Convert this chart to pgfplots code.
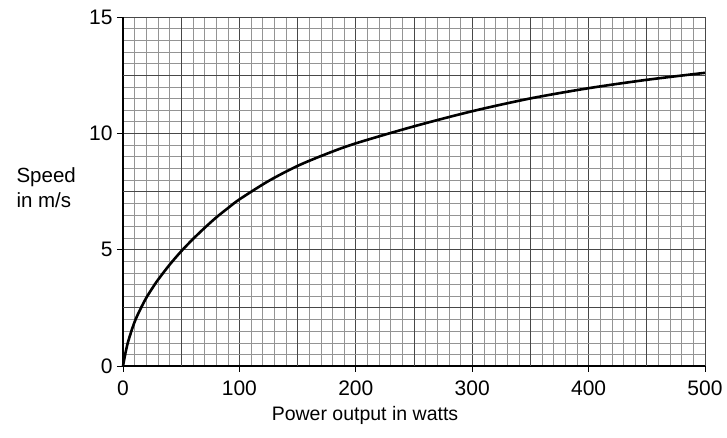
\documentclass[border=0pt]{standalone}
\usepackage{fontspec}
\setmainfont{Liberation Sans}
\usepackage{pgfplots}
\pgfplotsset{compat=1.18}
\pgfplotstableread{
P v
0 0
2.5 0.65
5 1.15
10 1.9
15 2.45
20 2.93
25 3.33
30 3.7
40 4.35
50 4.93
60 5.45
70 5.93
80 6.38
90 6.78
100 7.16
125 7.95
150 8.6
175 9.12
200 9.57
250 10.3
300 10.95
350 11.5
400 11.94
450 12.3
500 12.6
}\speeddata
\begin{document}
\begin{tikzpicture}
\begin{axis}[
  at={(0pt,0pt)}, anchor=south west,
  scale only axis, width=582pt, height=349pt,
  xmin=0, xmax=500, ymin=0, ymax=15,
  axis x line*=bottom, axis y line*=left,
  axis line style={line width=1.6pt, black},
  xtick={0,100,...,500}, ytick={0,5,10,15},
  minor xtick={10,20,30,40,60,70,80,90,110,120,130,140,160,170,180,190,210,220,230,240,260,270,280,290,310,320,330,340,360,370,380,390,410,420,430,440,460,470,480,490},
  minor ytick={0.5,1,1.5,2,3,3.5,4,4.5,5.5,6,6.5,7,8,8.5,9,9.5,10.5,11,11.5,12,13,13.5,14,14.5},
  extra x ticks={50,150,250,350,450}, extra x tick labels={},
  extra y ticks={2.5,7.5,12.5}, extra y tick labels={},
  extra tick style={grid=major, major tick length=0pt},
  grid=both,
  major grid style={line width=0.9pt, black!72},
  minor grid style={line width=0.45pt, black!42},
  minor tick length=0pt,
  major tick length=6pt, tick align=outside,
  tick style={line width=0.8pt, black},
  /pgf/number format/assume math mode=true,
  tick label style={font=\fontsize{21}{24}\selectfont},
  xticklabel style={yshift=-5pt},
  yticklabel style={xshift=-1pt},
  clip=false,
]
\addplot[black, line width=2.6pt, smooth] table[x=P, y=v] {\speeddata};
\end{axis}
\node[anchor=base west, font=\fontsize{20.5}{24}\selectfont] at (-110pt,183pt) {Speed};
\node[anchor=base west, font=\fontsize{20.5}{24}\selectfont] at (-110pt,158pt) {in m/s};
\node[anchor=base, font=\fontsize{19.5}{23}\selectfont] at (242pt,-55pt) {Power output in watts};
\path (-123pt,-72pt) rectangle (604pt,366pt);
\end{tikzpicture}
\end{document}
